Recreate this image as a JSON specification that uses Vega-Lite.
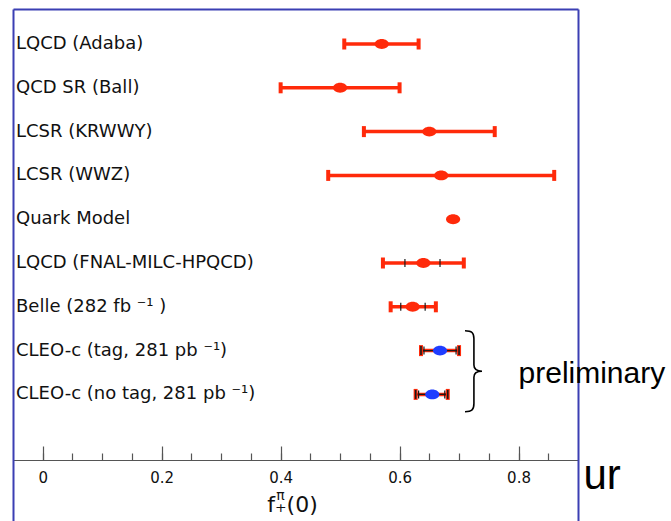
{
  "$schema": "https://vega.github.io/schema/vega-lite/v6.json",
  "width": 565,
  "height": 512,
  "autosize": "none",
  "padding": {"left": 13, "top": 9, "right": 93, "bottom": 0},
  "background": "white",
  "config": {"view": {"stroke": null}},
  "data": {
    "values": [
      {"row": 1, "label": "LQCD (Adaba)", "f": 0.57, "lo": 0.507, "hi": 0.632, "slo": null, "shi": null, "group": "published"},
      {"row": 2, "label": "QCD SR (Ball)", "f": 0.5, "lo": 0.4, "hi": 0.6, "slo": null, "shi": null, "group": "published"},
      {"row": 3, "label": "LCSR (KRWWY)", "f": 0.65, "lo": 0.54, "hi": 0.76, "slo": null, "shi": null, "group": "published"},
      {"row": 4, "label": "LCSR (WWZ)", "f": 0.67, "lo": 0.48, "hi": 0.86, "slo": null, "shi": null, "group": "published"},
      {"row": 5, "label": "Quark Model", "f": 0.69, "lo": null, "hi": null, "slo": null, "shi": null, "group": "published"},
      {"row": 6, "label": "LQCD (FNAL-MILC-HPQCD)", "f": 0.64, "lo": 0.572, "hi": 0.708, "slo": 0.609, "shi": 0.668, "group": "published"},
      {"row": 7, "label": "Belle  (282 fb ⁻¹ )", "f": 0.622, "lo": 0.585, "hi": 0.661, "slo": 0.602, "shi": 0.643, "group": "published"},
      {"row": 8, "label": "CLEO-c (tag, 281 pb ⁻¹)", "f": 0.668, "lo": 0.636, "hi": 0.7, "slo": 0.641, "shi": 0.695, "group": "preliminary"},
      {"row": 9, "label": "CLEO-c (no tag, 281 pb ⁻¹)", "f": 0.655, "lo": 0.627, "hi": 0.681, "slo": 0.632, "shi": 0.676, "group": "preliminary"}
    ]
  },
  "resolve": {"axis": {"x": "independent", "y": "independent"}},
  "layer": [
    {
      "transform": [{"filter": "isValid(datum.lo)"}],
      "mark": {"type": "rule", "color": "#ff2a0a", "strokeWidth": 3.5},
      "encoding": {
        "x": {
          "field": "lo", "type": "quantitative",
          "scale": {"domain": [-0.05, 0.9], "nice": false, "zero": false},
          "axis": {
            "orient": "bottom", "offset": -61,
            "values": [0, 0.2, 0.4, 0.6, 0.8], "format": "~g",
            "grid": false,
            "domain": true, "domainColor": "#555", "domainWidth": 1.2,
            "ticks": true, "tickSize": -14, "tickColor": "#555", "tickWidth": 1.2,
            "labelFont": "DejaVu Sans", "labelFontSize": 15, "labelColor": "#111", "labelPadding": 24,
            "title": "f₊(0)", "titleFont": "DejaVu Sans", "titleFontSize": 22, "titleFontWeight": "normal",
            "titleColor": "#111", "titleX": 279, "titleY": 51, "titleBaseline": "alphabetic", "titleAlign": "center"
          }
        },
        "x2": {"field": "hi"},
        "y": {
          "field": "row", "type": "quantitative",
          "scale": {"domain": [0.2009, 11.89], "reverse": true, "nice": false, "zero": false},
          "axis": {
            "orient": "left", "title": null, "labels": false, "ticks": false, "grid": false,
            "domain": true, "domainColor": "#3b3fb3", "domainWidth": 2
          }
        }
      }
    },
    {
      "transform": [{"filter": "datum.group === 'preliminary'"}],
      "mark": {"type": "rule", "color": "#1a1a1a", "strokeWidth": 1.2},
      "encoding": {
        "x": {"field": "lo", "type": "quantitative", "axis": null},
        "x2": {"field": "hi"},
        "y": {"field": "row", "type": "quantitative", "axis": null}
      }
    },
    {
      "transform": [
        {"fold": ["lo", "hi"], "as": ["end", "pos"]},
        {"filter": "isValid(datum.pos)"}
      ],
      "mark": {"type": "tick", "orient": "vertical", "color": "#ff2a0a", "thickness": 4, "size": 11, "opacity": 1},
      "encoding": {
        "x": {
          "field": "pos", "type": "quantitative",
          "axis": {
            "orient": "bottom", "offset": -61,
            "values": [0, 0.05, 0.1, 0.15, 0.2, 0.25, 0.3, 0.35, 0.4, 0.45, 0.5, 0.55, 0.6, 0.65, 0.7, 0.75, 0.8, 0.85],
            "grid": false, "domain": false, "labels": false,
            "ticks": true, "tickSize": -7, "tickColor": "#555", "tickWidth": 1.2,
            "title": "ur", "titleFont": "Liberation Sans", "titleFontSize": 42, "titleFontWeight": "normal",
            "titleColor": "#000", "titleX": 570, "titleY": 28, "titleBaseline": "alphabetic", "titleAlign": "left"
          }
        },
        "y": {
          "field": "row", "type": "quantitative",
          "axis": {
            "orient": "right", "title": null, "labels": false, "ticks": false, "grid": false,
            "domain": true, "domainColor": "#3b3fb3", "domainWidth": 2
          }
        }
      }
    },
    {
      "transform": [
        {"filter": "datum.group === 'preliminary'"},
        {"fold": ["lo", "hi"], "as": ["end", "pos"]}
      ],
      "mark": {"type": "tick", "orient": "vertical", "color": "#1a1a1a", "thickness": 1.6, "size": 9, "opacity": 1},
      "encoding": {
        "x": {"field": "pos", "type": "quantitative", "axis": null},
        "y": {"field": "row", "type": "quantitative", "axis": null}
      }
    },
    {
      "transform": [
        {"fold": ["slo", "shi"], "as": ["end", "pos"]},
        {"filter": "isValid(datum.pos)"}
      ],
      "mark": {"type": "tick", "orient": "vertical", "color": "#1a1a1a", "thickness": 1.2, "size": 8, "opacity": 1},
      "encoding": {
        "x": {"field": "pos", "type": "quantitative", "axis": null},
        "y": {"field": "row", "type": "quantitative", "axis": null}
      }
    },
    {
      "mark": {
        "type": "point", "filled": true, "opacity": 1, "size": 200,
        "shape": "M -1 0 A 1 0.7 0 1 1 1 0 A 1 0.7 0 1 1 -1 0 Z"
      },
      "encoding": {
        "x": {"field": "f", "type": "quantitative", "axis": null},
        "y": {"field": "row", "type": "quantitative", "axis": null},
        "color": {
          "field": "group", "type": "nominal",
          "scale": {"domain": ["published", "preliminary"], "range": ["#ff2a0a", "#1f3dff"]},
          "legend": null
        }
      }
    },
    {
      "mark": {
        "type": "text", "align": "left", "baseline": "middle", "dx": 3,
        "font": "DejaVu Sans", "fontSize": 18, "color": "#111"
      },
      "encoding": {
        "x": {"datum": -0.05, "type": "quantitative", "axis": null},
        "y": {"field": "row", "type": "quantitative", "axis": null},
        "text": {"field": "label", "type": "nominal"}
      }
    },
    {
      "data": {"values": [{}]},
      "mark": {
        "type": "point", "filled": false, "opacity": 1, "size": 6561,
        "stroke": "#000", "strokeWidth": 1.6,
        "shape": "M -0.22 -1 C -0.05 -1 0 -0.95 0 -0.8 L 0 -0.15 C 0 -0.04 0.06 0 0.2 0 C 0.06 0 0 0.04 0 0.15 L 0 0.8 C 0 0.95 -0.05 1 -0.22 1"
      },
      "encoding": {
        "x": {
          "datum": 0.725, "type": "quantitative",
          "axis": {
            "orient": "top", "grid": false, "labels": false, "ticks": false,
            "domain": true, "domainColor": "#3b3fb3", "domainWidth": 2,
            "title": "π", "titleFont": "DejaVu Sans", "titleFontSize": 14, "titleFontWeight": "normal",
            "titleColor": "#111", "titleX": 267, "titleY": 490, "titleBaseline": "alphabetic", "titleAlign": "center"
          }
        },
        "y": {"datum": 8.47, "type": "quantitative", "axis": null}
      }
    },
    {
      "data": {"values": [{}]},
      "mark": {
        "type": "text", "text": "preliminary", "align": "left", "baseline": "alphabetic",
        "font": "Liberation Sans", "fontSize": 30, "color": "#000"
      },
      "encoding": {
        "x": {"datum": 0.8, "type": "quantitative", "axis": null},
        "y": {"datum": 8.74, "type": "quantitative", "axis": null}
      }
    }
  ]
}
